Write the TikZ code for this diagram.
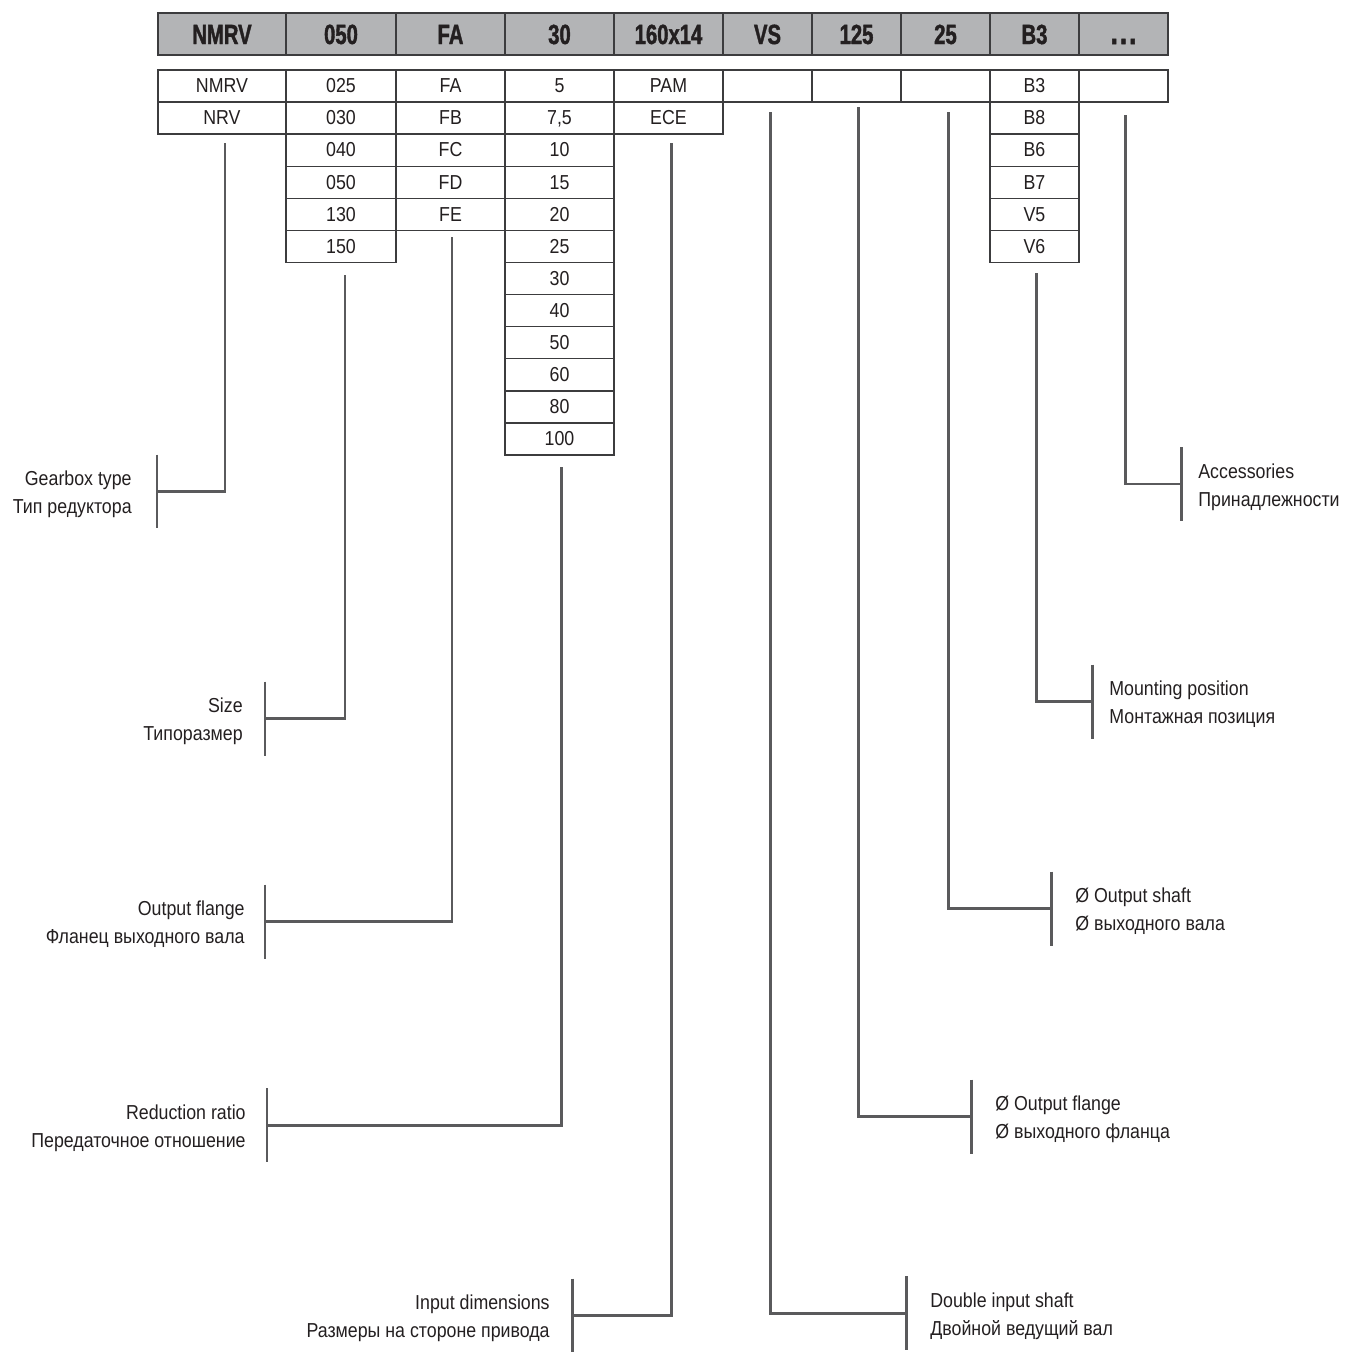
\documentclass[tikz,border=0pt]{standalone}
\usepackage{fontspec}
\setmainfont{Liberation Sans}[FakeStretch=0.88]
\newfontfamily\headfont{Liberation Sans Bold}[FakeStretch=0.73,FakeBold=1.4]
\usetikzlibrary{calc}
\definecolor{headgray}{HTML}{B3B4B6}
\definecolor{framegray}{HTML}{3C3C3E}
\definecolor{leadgray}{HTML}{5A5A5C}
\definecolor{inkgray}{HTML}{231F20}
\newcommand{\moredots}{{\fontsize{20}{20}\selectfont.\kern1.2pt.\kern1.2pt.}}
\tikzset{
  headcell/.style={
    draw=framegray,
    line width=1.1pt,
    fill=headgray,
    inner sep=0,
    minimum height=0.84cm,
    text height=11.4pt,
    text depth=0pt,
    text=inkgray,
    font=\headfont\fontsize{15.8}{16}\selectfont
  },
  cell/.style={
    draw=framegray,
    line width=0.7pt,
    fill=white,
    inner sep=0,
    minimum height=0.642cm,
    text height=8.3pt,
    text depth=0.6pt,
    text=inkgray,
    font=\fontsize{11.5}{14}\selectfont
  },
  leader/.style={
    draw=leadgray,
    line width=1.7pt
  },
  leftcap/.style={
    anchor=east,
    align=right,
    inner sep=0,
    text=inkgray,
    font=\fontsize{11.5}{15.9}\selectfont
  },
  rightcap/.style={
    anchor=west,
    align=left,
    inner sep=0,
    text=inkgray,
    font=\fontsize{11.5}{15.9}\selectfont
  }
}
\begin{document}
\begin{tikzpicture}[x=0.02cm,y=-0.02cm]
    \useasboundingbox (0,0) rectangle (1346,1352);
    % header row
    \foreach \l/\r/\t [count=\i] in {158/286/NMRV,286/396/050,396/505/FA,505/614/30,614/723/160x14,
                                     723/812/VS,812/901/125,901/990/25,990/1079/B3,1079/1168/\moredots}{
            \node[headcell,minimum width=(\r-\l)*0.02cm] (h\i) at ({(\l+\r)/2},34) {\t};
        }
    % option table
    \foreach \e [count=\j] in {NMRV,NRV}
        \node[cell,minimum width=2.56cm] (a\j) at (222,{69.9+32.1*(\j-0.5)}) {\e};
    \foreach \e [count=\j] in {025,030,040,050,130,150}
        \node[cell,minimum width=2.2cm] (b\j) at (341,{69.9+32.1*(\j-0.5)}) {\e};
    \foreach \e [count=\j] in {FA,FB,FC,FD,FE}
        \node[cell,minimum width=2.18cm] (c\j) at (450.5,{69.9+32.1*(\j-0.5)}) {\e};
    \foreach \e [count=\j] in {5,{7,5},10,15,20,25,30,40,50,60,80,100}
        \node[cell,minimum width=2.18cm] (d\j) at (559.5,{69.9+32.1*(\j-0.5)}) {\e};
    \foreach \e [count=\j] in {PAM,ECE}
        \node[cell,minimum width=2.18cm] (e\j) at (668.5,{69.9+32.1*(\j-0.5)}) {\e};
    \foreach \x/\n in {767.5/f,856.5/g,945.5/h,1123.5/k}
        \node[cell,minimum width=1.78cm] (\n1) at (\x,85.95) {};
    \foreach \e [count=\j] in {B3,B8,B6,B7,V5,V6}
        \node[cell,minimum width=1.78cm] (m\j) at (1034.5,{69.9+32.1*(\j-0.5)}) {\e};
    % leaders to the left
    \foreach \n/\lx/\ly/\bx/\by/\tx/\txt in {
            1/225/143/157/491.5/132/{Gearbox type\\Тип редуктора},
            2/345/275/265/718.5/243/{Size\\Типоразмер},
            3/452/237/265/921.5/245/{Output flange\\Фланец выходного вала},
            4/561/467/267/1125/246/{Reduction ratio\\Передаточное отношение},
            5/671/143/572/1315.5/550/{Input dimensions\\Размеры на стороне привода}}{
            \coordinate (t\n) at (\lx,\ly);
            \coordinate (s\n) at (\bx,\by);
            \draw[leader] ([yshift=0.74cm]s\n) -- ([yshift=-0.74cm]s\n);
            \draw[leader] (t\n) |- (s\n);
            \node[leftcap] (cap\n) at (\tx,\by+3) {\txt};
        }
    % leaders to the right
    \foreach \n/\lx/\ly/\bx/\by/\tx/\txt in {
            6/770/112/906/1313/930/{Double input shaft\\Двойной ведущий вал},
            7/858/107/971/1116.5/995/{Ø Output flange\\Ø выходного фланца},
            8/948/112/1051/908.5/1075/{Ø Output shaft\\Ø выходного вала},
            9/1036/273/1092/701.5/1109/{Mounting position\\Монтажная позиция},
            10/1125/115/1181/484/1198/{Accessories\\Принадлежности}}{
            \coordinate (t\n) at (\lx,\ly);
            \coordinate (s\n) at (\bx,\by);
            \draw[leader] ([yshift=0.74cm]s\n) -- ([yshift=-0.74cm]s\n);
            \draw[leader] (t\n) |- (s\n);
            \node[rightcap] (cap\n) at (\tx,\by+3) {\txt};
        }
\end{tikzpicture}
\end{document}
